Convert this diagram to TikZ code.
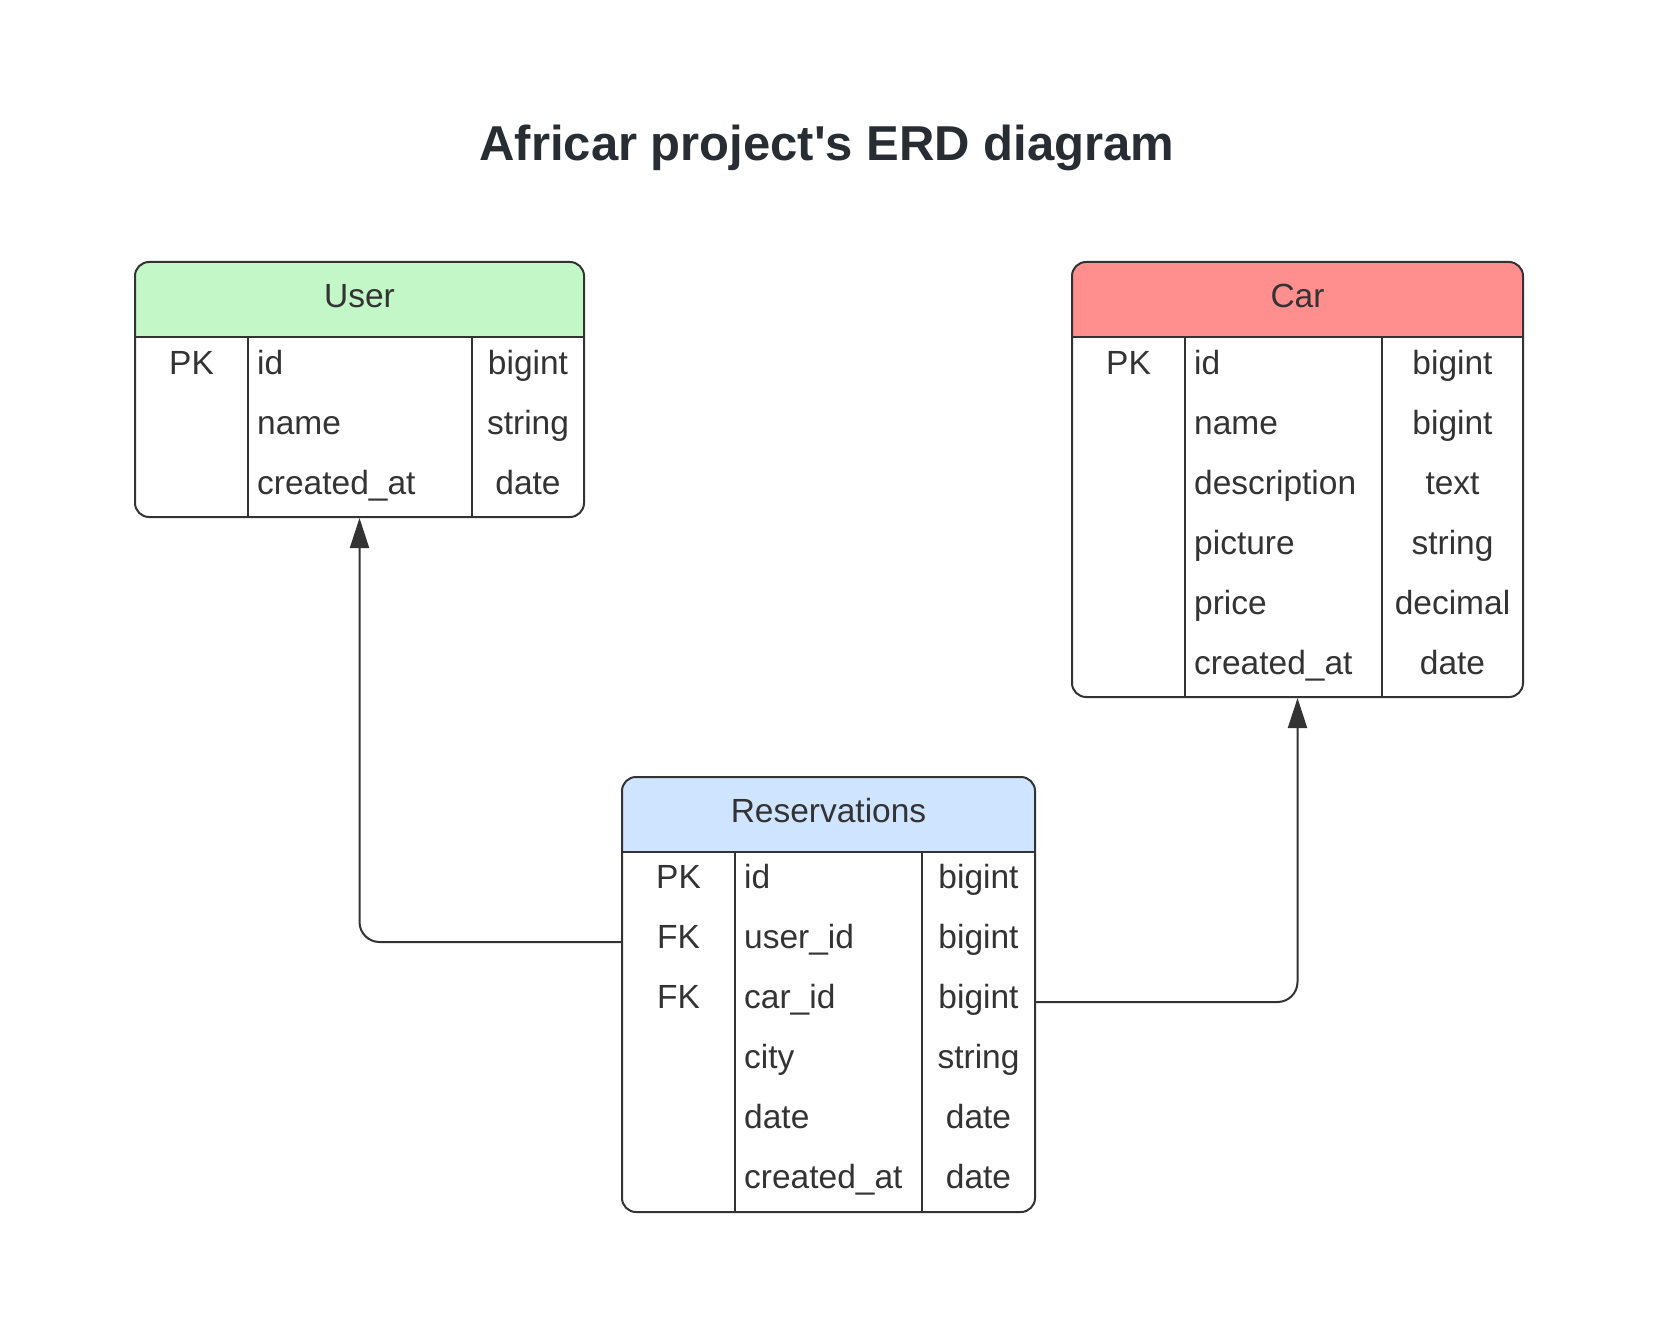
\documentclass[tikz,border=0pt]{standalone}
\usepackage{fontspec}
\setmainfont{Liberation Sans}
\usetikzlibrary{arrows.meta}
\usetikzlibrary{calc}
\definecolor{usergreen}{HTML}{C3F7C8}
\definecolor{carred}{HTML}{FF8F8F}
\definecolor{resblue}{HTML}{CFE4FF}
\definecolor{ink}{HTML}{333333}
\definecolor{titleink}{HTML}{282C33}

\begin{document}
\begin{tikzpicture}[x=1pt, y=-1pt,
entity/.style={draw=ink, line width=2pt, rounded corners=14pt, inner sep=0pt,
  path picture={\fill[#1, sharp corners] (path picture bounding box.north west) rectangle ([yshift=-76pt]path picture bounding box.north east);}},
cell/.style={inner sep=0pt, minimum height=60pt, text height=20pt, text depth=8pt, text=ink, font=\fontsize{33.5}{40}\selectfont},
head/.style={cell, minimum height=76pt, text height=22pt, text depth=6pt, anchor=north},
key/.style={cell, anchor=center},
field/.style={cell, anchor=west},
kind/.style={cell, anchor=center},
rule/.style={draw=ink, line width=2pt},
link/.style={draw=ink, line width=2pt, rounded corners=20pt},
>={Triangle[length=30pt, width=19pt]}]

\fill[white] (0,0) rectangle (1654,1329);

\node[font=\bfseries\fontsize{49}{60}\selectfont, text=titleink, anchor=base] (title) at (827,161) {Africar project\textquotesingle s ERD diagram};

%%%%%%%%%%%% User
\node[entity=usergreen, minimum width=449pt, minimum height=255pt] (user) at (359.5,389.5) {};
\node[head, minimum width=449pt] (userh) at (user.north) {User};
\draw[rule] (userh.south west) -- (userh.south east);
\draw[rule] (248,338) -- (248,517);
\draw[rule] (472,338) -- (472,517);
\foreach \i/\k/\f/\t in {1/PK/id/bigint, 2//name/string, 3//created\_at/date}
{
\node[key] (uk\i) at (191.5, 308+60*\i) {\k};
\node[field] (uf\i) at (257, 308+60*\i) {\f};
\node[kind] (ut\i) at (528, 308+60*\i) {\t};
}

%%%%%%%%%%%% Car
\node[entity=carred, minimum width=451pt, minimum height=435pt] (car) at (1297.5,479.5) {};
\node[head, minimum width=451pt] (carh) at (car.north) {Car};
\draw[rule] (carh.south west) -- (carh.south east);
\draw[rule] (1185,338) -- (1185,697);
\draw[rule] (1382,338) -- (1382,697);
\foreach \i/\k/\f/\t in {1/PK/id/bigint, 2//name/bigint, 3//description/text, 4//picture/string, 5//price/decimal, 6//created\_at/date}
{
\node[key] (ck\i) at (1128.5, 308+60*\i) {\k};
\node[field] (cf\i) at (1194, 308+60*\i) {\f};
\node[kind] (ct\i) at (1452.5, 308+60*\i) {\t};
}

%%%%%%%%%%%% Reservations
\node[entity=resblue, minimum width=413pt, minimum height=435pt] (res) at (828.5,994.5) {};
\node[head, minimum width=413pt] (resh) at (res.north) {Reservations};
\draw[rule] (resh.south west) -- (resh.south east);
\draw[rule] (735,852) -- (735,1212);
\draw[rule] (922,852) -- (922,1212);
\foreach \i/\k/\f/\t in {1/PK/id/bigint, 2/FK/user\_id/bigint, 3/FK/car\_id/bigint, 4//city/string, 5//date/date, 6//created\_at/date}
{
\node[key] (rk\i) at (678.5, 822+60*\i) {\k};
\node[field] (rf\i) at (744, 822+60*\i) {\f};
\node[kind] (rt\i) at (978.5, 822+60*\i) {\t};
}

%%%%%%%%%%%% links
\draw[->, link] (rk2 -| res.west) -| (user.south);
\draw[->, link] (rk3 -| res.east) -| (car.south);
\end{tikzpicture}
\end{document}
